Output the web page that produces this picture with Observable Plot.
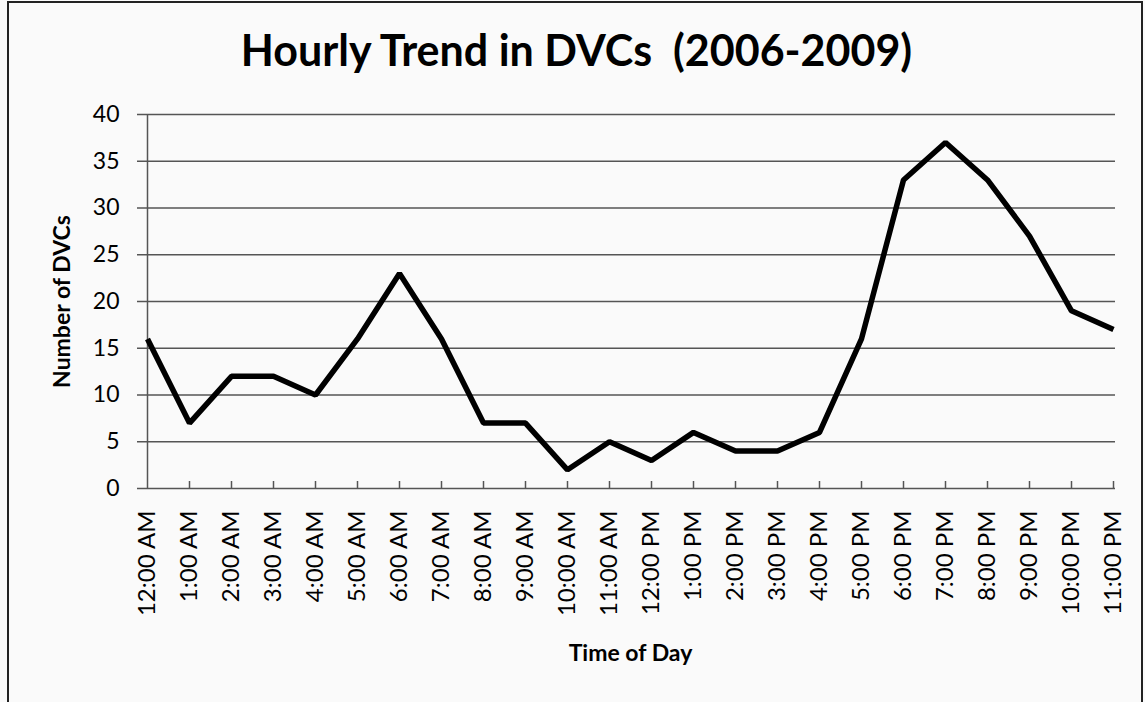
<!DOCTYPE html>
<html>
<head>
<meta charset="utf-8">
<script src="https://cdn.jsdelivr.net/npm/d3@7"></script>
<script src="https://cdn.jsdelivr.net/npm/@observablehq/plot@0.6"></script>
<style>
  html, body { margin: 0; padding: 0; background: #fbfbfb; }
  #frame {
    position: relative; width: 1145px; height: 702px; box-sizing: border-box;
    background: #fafafa; overflow: hidden;
  }
  #border {
    position: absolute; left: 7px; top: 1px; width: 1136px; height: 720px;
    border: 2px solid #222; box-sizing: border-box;
  }
  #title {
    position: absolute; left: 0; top: 0; width: 1145px; height: 95px;
    text-align: center; font-family: Lato, sans-serif; font-weight: bold;
    font-size: 43px; line-height: 95px; color: #000;
  }
  #chart { position: absolute; left: 0; top: 95px; }
  #chart svg { background: transparent; }
</style>
</head>
<body>
<div id="frame">
  <div id="border"></div>
  <div id="title"><span style="position:relative; top:2px; left:4px;">Hourly Trend in DVCs&nbsp;&nbsp;(2006-2009)</span></div>
  <div id="chart"></div>
</div>
<script>
const hours = ["12:00 AM","1:00 AM","2:00 AM","3:00 AM","4:00 AM","5:00 AM","6:00 AM","7:00 AM","8:00 AM","9:00 AM","10:00 AM","11:00 AM",
               "12:00 PM","1:00 PM","2:00 PM","3:00 PM","4:00 PM","5:00 PM","6:00 PM","7:00 PM","8:00 PM","9:00 PM","10:00 PM","11:00 PM"];
const dvcs = [16, 7, 12, 12, 10, 16, 23, 16, 7, 7, 2, 5, 3, 6, 4, 4, 6, 16, 33, 37, 33, 27, 19, 17];
const yTicks = [0, 5, 10, 15, 20, 25, 30, 35, 40];

const data = hours.map((h, i) => ({hour: h, count: dvcs[i]}));

const chart = Plot.plot({
  width: 1145,
  height: 607,
  marginLeft: 145,
  marginRight: 30,
  marginTop: 19,
  marginBottom: 214,
  style: {fontFamily: "Lato, sans-serif", color: "#000", background: "transparent", overflow: "visible"},
  x: {type: "point", domain: hours, padding: 0},
  y: {domain: [0, 40], ticks: yTicks},
  marks: [
    Plot.gridY(yTicks, {stroke: "#555", strokeOpacity: 1, strokeWidth: 1.3, insetLeft: -8}),
    Plot.ruleX([hours[0]], {y1: 0, y2: 40, stroke: "#555", strokeWidth: 1.5}),
    Plot.axisY(yTicks, {tickSize: 0, tickPadding: 26, fontSize: 23, label: null}),
    Plot.axisX(hours.slice(1), {tickSize: -7, text: null, stroke: "#555", strokeWidth: 1.5, label: null}),
    Plot.axisX(hours, {tickSize: 0, tickPadding: 22, tickRotate: -90, fontSize: 24, label: null}),
    Plot.text(["Time of Day"], {frameAnchor: "bottom", dy: 172, fontSize: 23, fontWeight: "bold"}),
    Plot.text(["Number of DVCs"], {frameAnchor: "left", textAnchor: "middle", dx: -83, rotate: -90, fontSize: 23, fontWeight: "bold"}),
    Plot.line(data, {x: "hour", y: "count", stroke: "#000", strokeWidth: 5.5, strokeLinejoin: "miter", strokeLinecap: "butt"})
  ]
});
document.getElementById("chart").appendChild(chart);
</script>
</body>
</html>
